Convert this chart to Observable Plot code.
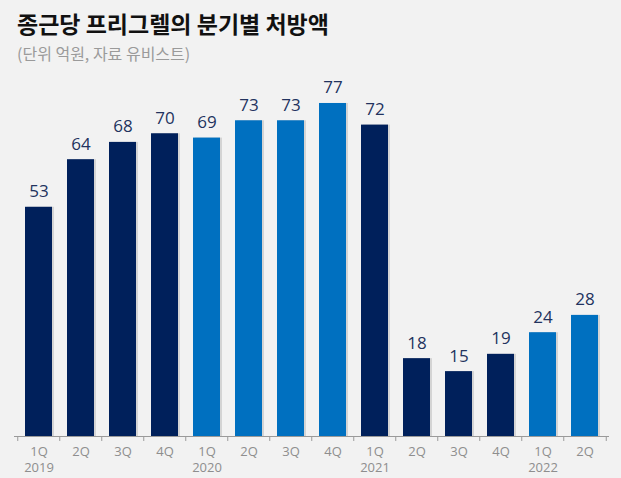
<!DOCTYPE html>
<html>
<head>
<meta charset="utf-8">
<script src="https://cdn.jsdelivr.net/npm/d3@7"></script>
<script src="https://cdn.jsdelivr.net/npm/@observablehq/plot@0.6"></script>
<style>
  html, body { margin: 0; padding: 0; background: #f2f2f2; }
  #wrap { position: relative; width: 621px; height: 478px; overflow: hidden; background: #f2f2f2; }
  #title { position: absolute; left: 17px; top: 7px; font-family: "Noto Sans CJK KR", sans-serif; font-weight: 700; font-size: 23px; line-height: 32px; color: #111; white-space: nowrap; z-index: 2; }
  #subtitle { position: absolute; left: 17px; top: 42px; font-family: "Noto Sans CJK KR", sans-serif; font-size: 16px; line-height: 22px; color: #9a9a9a; white-space: nowrap; z-index: 2; }
  #chart { position: absolute; left: 0; top: 60px; }
</style>
</head>
<body>
<div id="wrap">
  <div id="chart"></div>
  <div id="title">종근당 프리그렐의 분기별 처방액</div>
  <div id="subtitle">(단위 억원, 자료 유비스트)</div>
</div>
<script>
const quarters = ["1Q","2Q","3Q","4Q","1Q","2Q","3Q","4Q","1Q","2Q","3Q","4Q","1Q","2Q"];
const years = ["2019","2019","2019","2019","2020","2020","2020","2020","2021","2021","2021","2021","2022","2022"];
const values = [53, 64, 68, 70, 69, 73, 73, 77, 72, 18, 15, 19, 24, 28];
const yearColors = {"2019": "#00205b", "2020": "#0070c0", "2021": "#00205b", "2022": "#0070c0"};

const data = values.map((v, i) => ({key: years[i] + " " + quarters[i], q: quarters[i], year: years[i], value: v, first: i === 0 || years[i] !== years[i-1]}));
const keys = data.map(d => d.key);

const W = 621, H = 418, mL = 14, mR = 12;
const step = (W - mL - mR) / keys.length;

const chart = Plot.plot({
  width: W,
  height: H,
  marginLeft: mL,
  marginRight: mR,
  marginTop: 30,
  marginBottom: 42,
  style: {background: "transparent", fontFamily: "'Open Sans', sans-serif"},
  x: {domain: keys, paddingInner: 0.35, paddingOuter: 0.175, axis: null},
  y: {domain: [0, 80], axis: null},
  marks: [
    Plot.barY(data, {x: "key", y: "value", fill: "#000", fillOpacity: 0.12, dx: 2}),
    Plot.barY(data, {x: "key", y: "value", fill: d => yearColors[d.year]}),
    Plot.ruleY([0], {stroke: "#9a9a9a", strokeWidth: 1}),
    Plot.ruleX(keys, {x: d => d, dx: -step / 2, y1: 0, y2: -1.15, stroke: "#9a9a9a"}),
    Plot.ruleX(keys.slice(-1), {x: d => d, dx: step / 2, y1: 0, y2: -1.15, stroke: "#9a9a9a"}),
    Plot.text(data, {x: "key", y: "value", text: d => String(d.value), lineAnchor: "bottom", dy: -10, fontSize: 17, fill: "#22335e"}),
    Plot.text(data, {x: "key", y: 0, text: d => d.first ? d.q + "\n" + d.year : d.q, lineAnchor: "top", dy: 7, lineHeight: 1.3, fontSize: 13, fill: "#8e8e8e"})
  ]
});
document.getElementById("chart").appendChild(chart);
</script>
</body>
</html>
